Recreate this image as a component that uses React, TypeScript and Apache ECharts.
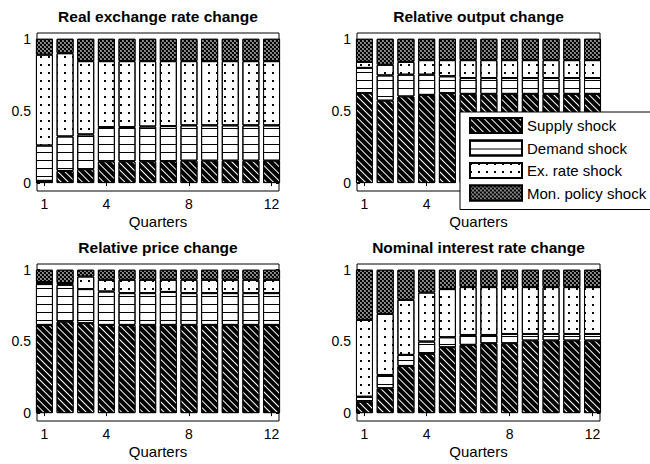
import React, { useEffect, useRef } from 'react';
import * as echarts from 'echarts';

const quarters = [1, 2, 3, 4, 5, 6, 7, 8, 9, 10, 11, 12];
const xTickValues = [1, 4, 8, 12];
// In the second panel the legend hides the labels 8 and 12
const xLabelValuesPerPanel = [[1, 4, 8, 12], [1, 4], [1, 4, 8, 12], [1, 4, 8, 12]];
const yTickValues = [0, 0.5, 1];
const shockNames = ['Supply shock', 'Demand shock', 'Ex. rate shock', 'Mon. policy shock'];
const panelTitles = [
  'Real exchange rate change',
  'Relative output change',
  'Relative price change',
  'Nominal interest rate change',
];
const xAxisName = 'Quarters';

// Real exchange rate change
const rerSupply = [0.015, 0.084, 0.096, 0.15, 0.15, 0.15, 0.152, 0.155, 0.155, 0.155, 0.155, 0.155];
const rerDemand = [0.245, 0.239, 0.241, 0.238, 0.238, 0.242, 0.243, 0.245, 0.245, 0.245, 0.245, 0.245];
const rerExRate = [0.63, 0.577, 0.508, 0.457, 0.457, 0.453, 0.45, 0.445, 0.445, 0.445, 0.445, 0.445];
const rerMonPol = [0.11, 0.1, 0.155, 0.155, 0.155, 0.155, 0.155, 0.155, 0.155, 0.155, 0.155, 0.155];

// Relative output change
const outSupply = [0.623, 0.571, 0.6, 0.611, 0.623, 0.618, 0.618, 0.618, 0.618, 0.618, 0.618, 0.618];
const outDemand = [0.175, 0.175, 0.151, 0.14, 0.117, 0.11, 0.11, 0.11, 0.11, 0.11, 0.11, 0.11];
const outExRate = [0.042, 0.074, 0.089, 0.101, 0.112, 0.124, 0.124, 0.124, 0.124, 0.124, 0.124, 0.124];
const outMonPol = [0.16, 0.18, 0.16, 0.148, 0.148, 0.148, 0.148, 0.148, 0.148, 0.148, 0.148, 0.148];

// Relative price change
const priSupply = [0.615, 0.638, 0.627, 0.615, 0.615, 0.615, 0.615, 0.615, 0.615, 0.615, 0.615, 0.615];
const priDemand = [0.285, 0.257, 0.238, 0.233, 0.222, 0.222, 0.23, 0.222, 0.222, 0.222, 0.222, 0.222];
const priExRate = [0.015, 0.012, 0.088, 0.082, 0.093, 0.093, 0.085, 0.093, 0.093, 0.093, 0.093, 0.093];
const priMonPol = [0.085, 0.093, 0.047, 0.07, 0.07, 0.07, 0.07, 0.07, 0.07, 0.07, 0.07, 0.07];

// Nominal interest rate change
const intSupply = [0.079, 0.173, 0.329, 0.413, 0.459, 0.476, 0.487, 0.487, 0.506, 0.506, 0.506, 0.506];
const intDemand = [0.035, 0.093, 0.077, 0.086, 0.07, 0.069, 0.058, 0.065, 0.046, 0.046, 0.046, 0.046];
const intExRate = [0.536, 0.426, 0.384, 0.342, 0.336, 0.334, 0.334, 0.327, 0.327, 0.327, 0.327, 0.327];
const intMonPol = [0.35, 0.308, 0.21, 0.159, 0.135, 0.121, 0.121, 0.121, 0.121, 0.121, 0.121, 0.121];

const panels = [
  [rerSupply, rerDemand, rerExRate, rerMonPol],
  [outSupply, outDemand, outExRate, outMonPol],
  [priSupply, priDemand, priExRate, priMonPol],
  [intSupply, intDemand, intExRate, intMonPol],
];

const FONT = 'Liberation Sans, Arial, sans-serif';

const grids = [
  { left: 37, top: 33, width: 242, height: 158 },
  { left: 357, top: 33, width: 243, height: 158 },
  { left: 37, top: 264, width: 242, height: 157 },
  { left: 357, top: 264, width: 243, height: 157 },
];

const fills = ['#000', '#fff', '#fff', '#000'];
const decals: any[] = [
  { color: '#fff', symbol: 'rect', dashArrayX: [1, 0], dashArrayY: [1, 4], rotation: Math.PI / 4 },
  { color: '#000', symbol: 'rect', dashArrayX: [1, 0], dashArrayY: [1, 7], rotation: 0 },
  { color: '#000', symbol: 'rect', dashArrayX: [2, 6], dashArrayY: [2, 6], rotation: 0 },
  { color: '#fff', symbol: 'circle', symbolSize: 0.75, dashArrayX: [[2, 2], [0, 2, 2, 0]], dashArrayY: [2, 0], rotation: 0 },
];

export default function App() {
  const ref = useRef<HTMLDivElement>(null);
  useEffect(() => {
    if (!ref.current) return;
    const chart = echarts.init(ref.current, null, { renderer: 'svg' });
    const xAxis: any[] = [];
    const yAxis: any[] = [];
    const series: any[] = [];
    const graphic: any[] = [];
    grids.forEach((g, gi) => {
      const base = {
        gridIndex: gi,
        type: 'value',
        min: 0.64,
        max: 12.36,
        splitLine: { show: false },
        axisLine: { show: false },
      };
      xAxis.push({
        ...base,
        position: 'bottom',
        axisTick: { show: true, inside: true, length: 3, customValues: xTickValues, lineStyle: { color: '#000' } },
        axisLabel: {
          show: true,
          customValues: xLabelValuesPerPanel[gi],
          color: '#000',
          fontFamily: FONT,
          fontSize: 14,
          margin: 6,
        },
        name: xAxisName,
        nameLocation: 'middle',
        nameGap: 23,
        nameTextStyle: { color: '#000', fontFamily: FONT, fontSize: 15 },
      });
      xAxis.push({
        ...base,
        position: 'top',
        axisTick: { show: true, inside: true, length: 3, customValues: xTickValues, lineStyle: { color: '#000' } },
        axisLabel: { show: false },
      });
      const ybase = {
        gridIndex: gi,
        type: 'value',
        min: -0.055,
        max: 1.04,
        splitLine: { show: false },
        axisLine: { show: false },
      };
      yAxis.push({
        ...ybase,
        position: 'left',
        axisTick: { show: true, inside: true, length: 3, customValues: yTickValues, lineStyle: { color: '#000' } },
        axisLabel: {
          show: true,
          customValues: yTickValues,
          color: '#000',
          fontFamily: FONT,
          fontSize: 14,
          margin: 6,
          formatter: (v: number) => String(v),
        },
      });
      yAxis.push({
        ...ybase,
        position: 'right',
        axisTick: { show: true, inside: true, length: 3, customValues: yTickValues, lineStyle: { color: '#000' } },
        axisLabel: { show: false },
      });
      panels[gi].forEach((arr, si) => {
        series.push({
          type: 'bar',
          name: shockNames[si],
          xAxisIndex: gi * 2,
          yAxisIndex: gi * 2,
          stack: 'p' + gi,
          barWidth: 17,
          // value first so that the stack runs along the y dimension
          data: quarters.map((q, i) => [arr[i], q]),
          encode: { x: 1, y: 0 },
          itemStyle: { color: fills[si], borderColor: '#000', borderWidth: 1, decal: decals[si] },
          emphasis: { disabled: true },
        });
      });
      graphic.push({
        type: 'text',
        x: g.left + g.width / 2,
        y: g.top - 16.5,
        style: {
          text: panelTitles[gi],
          fontFamily: FONT,
          fontWeight: 'bold',
          fontSize: 15.5,
          fill: '#000',
          textAlign: 'center',
          textVerticalAlign: 'middle',
        },
      });
    });
    chart.setOption({
      animation: false,
      backgroundColor: '#fff',
      grid: grids.map((g) => ({
        ...g,
        show: true,
        borderColor: '#000',
        borderWidth: 1,
        backgroundColor: '#fff',
        containLabel: false,
      })),
      xAxis,
      yAxis,
      series,
      graphic,
      legend: {
        data: shockNames,
        orient: 'vertical',
        left: 460,
        top: 112,
        icon: 'rect',
        itemWidth: 52,
        itemHeight: 15,
        itemGap: 5.5,
        padding: [5, 12, 8, 9],
        backgroundColor: '#fff',
        borderColor: '#000',
        borderWidth: 1,
        borderRadius: 0,
        selectedMode: false,
        textStyle: { color: '#000', fontFamily: FONT, fontSize: 15 },
        z: 10,
      },
    });
    return () => chart.dispose();
  }, []);
  return <div ref={ref} style={{ position: 'fixed', left: 0, top: 0, width: 650, height: 464 }} />;
}
